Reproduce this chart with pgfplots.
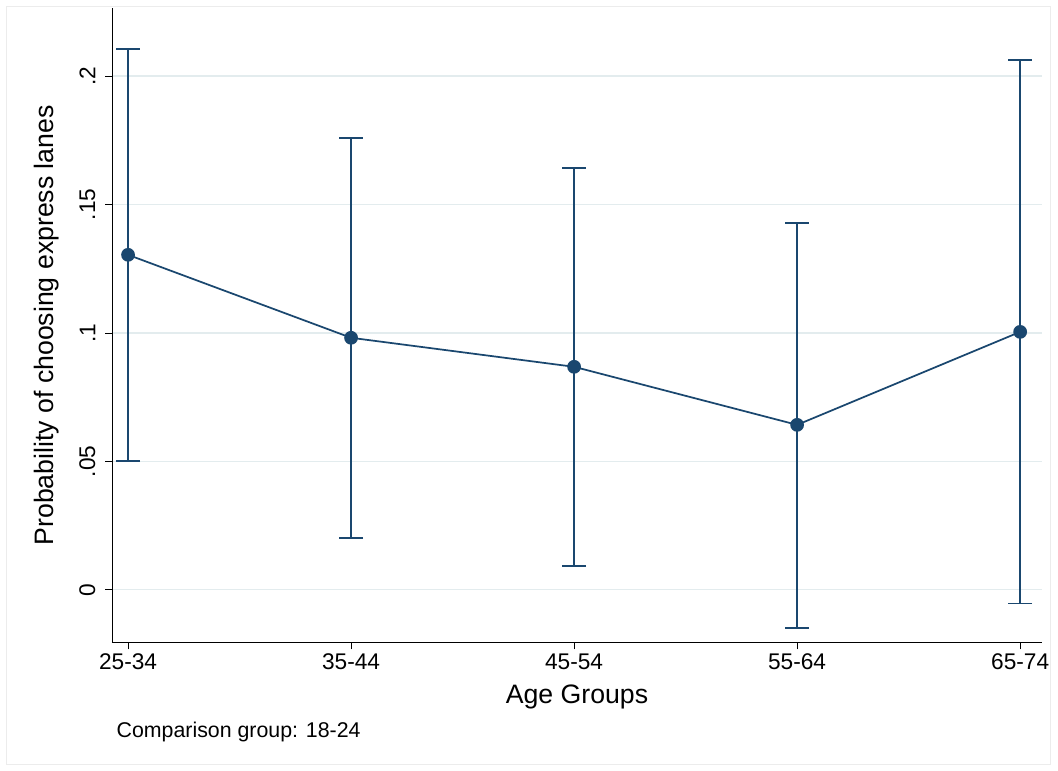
\documentclass[border=0pt]{standalone}
\usepackage{pgfplots}
\pgfplotsset{compat=1.18}
\usepackage{fontspec}
\setmainfont{Liberation Sans}
\definecolor{stnavy}{HTML}{1A476F}
\definecolor{gridc}{HTML}{E3ECEE}
\begin{document}
\begin{tikzpicture}
\fill[white] (-84pt,-96pt) rectangle (709.5pt,482pt);
\draw[gray!15] (-79pt,-91pt) rectangle (704pt,477pt);
\begin{axis}[
  scale only axis, width=697.5pt, height=476pt,
  xmin=-0.072, xmax=4.098, ymin=-0.0206, ymax=0.2265,
  axis x line*=bottom, axis y line*=left,
  xtick={0,1,2,3,4}, xticklabels={25-34,35-44,45-54,55-64,65-74},
  ytick={0,0.05,0.1,0.15,0.2}, yticklabels={0,.05,.1,.15,.2},
  yticklabel style={rotate=90, anchor=south, yshift=4pt},
  tick align=outside, tick style={black, thin},
  major tick length=5pt,
  ymajorgrids, grid style={gridc, line width=0.9pt},
  ticklabel style={font=\fontsize{17}{19}\selectfont},
  xlabel={Age Groups}, ylabel={Probability of choosing express lanes},
  label style={font=\fontsize{20}{22}\selectfont},
  xlabel style={yshift=-4pt},
  ylabel style={yshift=8pt},
  axis line style={black, thin},
  clip=false,
]
\addplot[stnavy, line width=1.3pt, mark=*, mark size=4.5pt,
  error bars/.cd, y dir=both, y explicit,
  error bar style={color=stnavy, line width=1.2pt},
  error mark options={rotate=90, mark size=9pt, color=stnavy, line width=1.2pt}]
coordinates {
 (0,0.1304) += (0,0.0801) -= (0,0.0802)
 (1,0.0981) += (0,0.0778) -= (0,0.0779)
 (2,0.0868) += (0,0.0774) -= (0,0.0775)
 (3,0.0642) += (0,0.0786) -= (0,0.0790)
 (4,0.1004) += (0,0.1058) -= (0,0.1058)
};
\node[anchor=west, font=\fontsize{16}{18}\selectfont] at (axis description cs:0,0) [yshift=-67pt, xshift=0pt] {Comparison group: 18-24};
\end{axis}
\end{tikzpicture}
\end{document}
